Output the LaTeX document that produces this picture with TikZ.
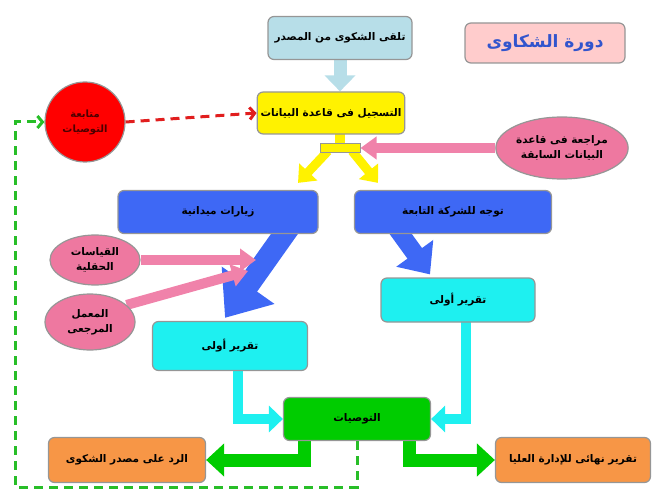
\documentclass[tikz,border=0pt]{standalone}
\usepackage{fontspec}
\newfontfamily\arabicfont[Script=Arabic]{DejaVu Sans}
\TeXXeTstate=1
\usetikzlibrary{arrows.meta,calc,shapes.geometric,backgrounds}

\newcommand{\ar}[1]{\beginR #1\endR}

\definecolor{boxgray}{RGB}{150,150,150}
\definecolor{titlepink}{RGB}{255,204,204}
\definecolor{titleblue}{RGB}{50,85,205}
\definecolor{srcblue}{RGB}{183,222,232}
\definecolor{bluebox}{RGB}{62,104,245}
\definecolor{pinkfill}{RGB}{238,120,160}
\definecolor{pinkarrow}{RGB}{240,130,170}
\definecolor{cyanbox}{RGB}{30,240,240}
\definecolor{greenbox}{RGB}{0,204,0}
\definecolor{orangebox}{RGB}{247,150,70}
\definecolor{dashgreen}{RGB}{40,190,40}
\definecolor{dashred}{RGB}{225,30,30}

\begin{document}
\begin{tikzpicture}[x=1pt,y=-1pt,
    every node/.style={font=\arabicfont\bfseries\fontsize{10.5}{15}\selectfont},
    box/.style={draw=boxgray, line width=1.2pt, rounded corners=6pt, align=center},
    oval/.style={ellipse, draw=boxgray, line width=1.2pt, fill=pinkfill, align=center, inner sep=1pt},
    fat/.style n args={3}{line width=#1, -{Triangle[width=#2,length=#3]}},
    backline/.style={line width=3pt, dash pattern=on 9pt off 6pt, -{Straight Barb[length=5pt,width=12pt]}},
  ]
    \useasboundingbox (0,0) rectangle (658,497);

    % boxes
    \node[box, fill=titlepink, minimum width=160pt, minimum height=40pt, text=titleblue,
          font=\arabicfont\bfseries\fontsize{17}{20}\selectfont] (title) at (545,43) {\ar{دورة الشكاوى}};
    \node[box, fill=srcblue, minimum width=144pt, minimum height=43pt] (src) at (340,38) {\ar{تلقى الشكوى من المصدر}};
    \node[box, fill=yellow, minimum width=127pt, minimum height=42pt] (reg) at (331,113) {\ar{التسجيل فى قاعدة البيانات}};
    \node[draw=boxgray, line width=1pt, fill=yellow, minimum width=40pt, minimum height=9pt, inner sep=0pt] (split) at (340,148) {};
    \node[circle, draw=boxgray, line width=1.2pt, fill=red, minimum size=80pt, align=center, text=black!70!red,
          font=\arabicfont\bfseries\fontsize{10}{15}\selectfont] (follow) at (85,122) {\ar{متابعة}\\\ar{التوصيات}};
    \node[oval, minimum width=125pt, minimum height=62pt] (review) at (562,148) {\ar{مراجعة فى قاعدة}\\\ar{البيانات السابقة}};
    \node[box, fill=bluebox, minimum width=200pt, minimum height=43pt] (visits) at (218,212) {\ar{زيارات ميدانية}};
    \node[box, fill=bluebox, minimum width=197pt, minimum height=43pt] (dir) at (453,212) {\ar{توجه للشركة التابعة}};
    \node[oval, minimum width=90pt, minimum height=50pt] (field) at (95,260) {\ar{القياسات}\\\ar{الحقلية}};
    \node[oval, minimum width=90pt, minimum height=56pt] (lab) at (90,322) {\ar{المعمل}\\\ar{المرجعى}};
    \node[box, fill=cyanbox, minimum width=155pt, minimum height=49pt] (lrep) at (230,346) {\ar{تقرير أولى}};
    \node[box, fill=cyanbox, minimum width=154pt, minimum height=44pt] (rrep) at (458,300) {\ar{تقرير أولى}};
    \node[box, fill=greenbox, minimum width=147pt, minimum height=43pt] (rec) at (357,419) {\ar{التوصيات}};
    \node[box, fill=orangebox, minimum width=157pt, minimum height=45pt] (reply) at (127,460) {\ar{الرد على مصدر الشكوى}};
    \node[box, fill=orangebox, minimum width=155pt, minimum height=45pt] (final) at (573,460) {\ar{تقرير نهائى للإدارة العليا}};

    \coordinate (hit1) at (256,260);
    \coordinate (hit2) at (248,271);
    \coordinate (back) at (15,487);

    % arrows
    \begin{scope}[on background layer]
    \draw[fat={13pt}{30pt}{16pt}, draw=srcblue] ($(src.south)+(0,-3)$) -- (src.south |- reg.north);
    \draw[line width=10pt, draw=yellow] ($(reg.south)+(9,-3)$) -- (split.north);
    \draw[fat={9pt}{24pt}{15pt}, draw=yellow] ($(split.south)+(-12,-2)$) -- ($(visits.north)+(80,-7)$);
    \draw[fat={9pt}{24pt}{15pt}, draw=yellow] ($(split.south)+(12,-2)$) -- ($(dir.north)+(-75,-7)$);
    \draw[fat={10pt}{22pt}{16pt}, draw=pinkarrow] (review.west) -- (split.east);
    \draw[fat={22pt}{62pt}{40pt}, draw=bluebox] ($(visits.south)+(72,-8)$) -- ($(lrep.north)+(-5,-3)$);
    \draw[fat={18pt}{44pt}{26pt}, draw=bluebox] ($(dir.south)+(-58,-8)$) -- ($(rrep.north)+(-28,-3)$);
    \draw[fat={10pt}{22pt}{16pt}, draw=pinkarrow] (field.east) -- (hit1);
    \draw[fat={10pt}{22pt}{16pt}, draw=pinkarrow] (lab.25) -- (hit2);
    \draw[fat={10pt}{26pt}{14pt}, draw=cyanbox] ($(lrep.south)+(8,-4)$) |- (rec.west);
    \draw[fat={10pt}{26pt}{14pt}, draw=cyanbox] ($(rrep.south)+(8,-4)$) |- (rec.east);
    \draw[fat={13pt}{32pt}{18pt}, draw=greenbox] ($(rec.south west)+(22,-4)$) |- (reply.east);
    \draw[fat={13pt}{32pt}{18pt}, draw=greenbox] ($(rec.south east)+(-22,-4)$) |- (final.west);
    \end{scope}

    \draw[backline, dashred] (follow.east) -- (reg.west);
    \draw[backline, dashgreen] (rec.south) |- (back) |- (follow.west);
\end{tikzpicture}
\end{document}
